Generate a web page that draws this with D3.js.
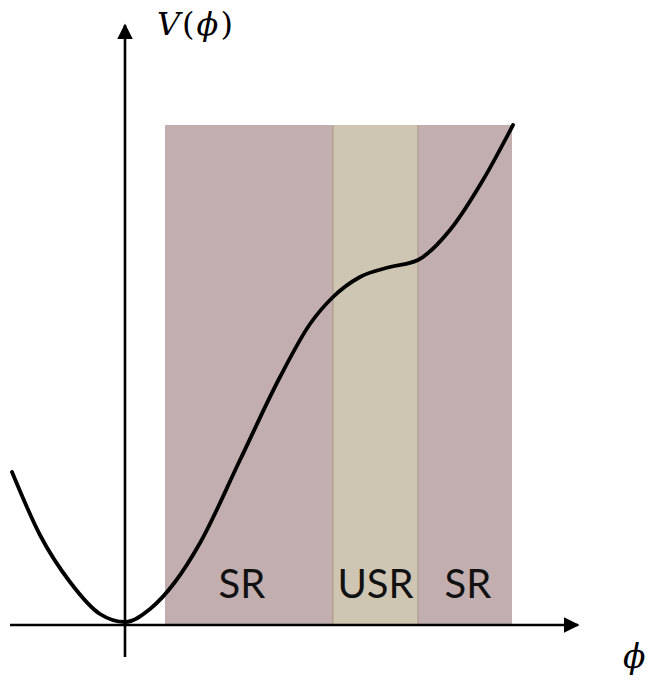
<!DOCTYPE html>
<html>
<head>
<meta charset="utf-8">
<script src="https://cdn.jsdelivr.net/npm/d3@7"></script>
<style>
  html, body { margin: 0; padding: 0; background: #fff; }
  svg { display: block; }
</style>
</head>
<body>
<div id="chart"></div>
<script>
// Potential V(φ) sampled along the field φ
const phiValues = [-1.13, -0.85, -0.55, -0.25, 0, 0.25, 0.5, 0.75, 1.15, 1.55, 1.85, 2.08, 2.35, 2.65, 2.93, 3.25, 3.58, 3.88];
const potentialValues = [1.53, 0.90, 0.43, 0.11, 0.03, 0.16, 0.43, 0.82, 1.65, 2.48, 3.01, 3.28, 3.48, 3.58, 3.65, 3.95, 4.45, 5.0];

// Slow-roll (SR) and ultra-slow-roll (USR) bands
const regionLabels = ["SR", "USR", "SR"];
const regionBounds = [0.4, 2.08, 2.93, 3.87];
const regionTop = 5.0;
const regionColors = ["#c2aeae", "#cec6b3", "#c2aeae"];

const width = 651, height = 680;

const x = d3.scaleLinear().domain([-1.15, 4.53]).range([10, 578]);
const y = d3.scaleLinear().domain([0, 6.0]).range([625, 25]);

const svg = d3.select("#chart").append("svg")
  .attr("width", width).attr("height", height);

// shaded bands
const bands = regionLabels.map((label, i) => ({
  label, x0: regionBounds[i], x1: regionBounds[i + 1], color: regionColors[i]
}));

svg.append("g").selectAll("rect").data(bands).join("rect")
  .attr("x", d => x(d.x0))
  .attr("y", y(regionTop))
  .attr("width", d => x(d.x1) - x(d.x0))
  .attr("height", y(0) - y(regionTop))
  .attr("fill", d => d.color);

// thin edges of the USR band
svg.append("g").selectAll("line").data([regionBounds[1], regionBounds[2]]).join("line")
  .attr("x1", d => x(d)).attr("x2", d => x(d))
  .attr("y1", y(regionTop)).attr("y2", y(0))
  .attr("stroke", "#b09d8a").attr("stroke-width", 1.2);

// band labels
svg.append("g").selectAll("text").data(bands).join("text")
  .attr("x", (d, i) => (x(d.x0) + x(d.x1)) / 2 + (i === 0 ? -7 : (i === 2 ? 3 : 0)))
  .attr("y", 598)
  .attr("text-anchor", "middle")
  .attr("font-family", "Lato, 'Open Sans', sans-serif")
  .attr("font-size", 40)
  .attr("fill", "#111")
  .text(d => d.label);

// axes with arrowheads
const defs = svg.append("defs");
defs.append("marker")
  .attr("id", "arrow")
  .attr("viewBox", "0 0 10 10")
  .attr("refX", 9).attr("refY", 5)
  .attr("markerWidth", 6).attr("markerHeight", 6)
  .attr("markerUnits", "strokeWidth")
  .attr("orient", "auto")
  .append("path").attr("d", "M0,0 L10,5 L0,10 Z").attr("fill", "#000");

svg.append("line")
  .attr("x1", 10).attr("x2", 578)
  .attr("y1", y(0)).attr("y2", y(0))
  .attr("stroke", "#000").attr("stroke-width", 2.6)
  .attr("marker-end", "url(#arrow)");

svg.append("line")
  .attr("x1", x(0)).attr("x2", x(0))
  .attr("y1", 657).attr("y2", 25)
  .attr("stroke", "#000").attr("stroke-width", 2.6)
  .attr("marker-end", "url(#arrow)");

// potential curve
const line = d3.line()
  .x(d => x(d[0]))
  .y(d => y(d[1]))
  .curve(d3.curveMonotoneX);

svg.append("path")
  .datum(phiValues.map((p, i) => [p, potentialValues[i]]))
  .attr("d", line)
  .attr("fill", "none")
  .attr("stroke", "#000")
  .attr("stroke-width", 3.8)
  .attr("stroke-linecap", "round");

// axis titles
const yTitle = svg.append("text")
  .attr("x", 157).attr("y", 35)
  .attr("font-family", "'DejaVu Serif', 'Liberation Serif', serif")
  .attr("font-size", 32)
  .attr("letter-spacing", 2)
  .attr("fill", "#000");
yTitle.append("tspan").attr("font-style", "italic").text("V");
yTitle.append("tspan").text("(");
yTitle.append("tspan").attr("font-style", "italic").text("ϕ");
yTitle.append("tspan").text(")");

svg.append("text")
  .attr("x", 623).attr("y", 668)
  .attr("font-family", "'DejaVu Serif', 'Liberation Serif', serif")
  .attr("font-style", "italic")
  .attr("font-size", 33)
  .attr("fill", "#000")
  .text("ϕ");
</script>
</body>
</html>
